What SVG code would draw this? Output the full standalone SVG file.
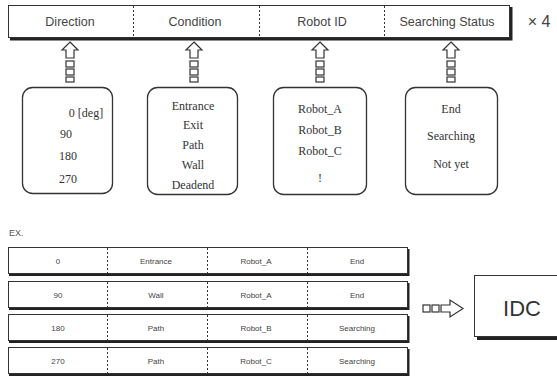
<svg xmlns="http://www.w3.org/2000/svg" width="557" height="377" viewBox="0 0 557 377">
<defs>
<style>
.bg{fill:#fff}
.box{fill:#fff;stroke:#333;stroke-width:1}
.shadow{fill:#222}
.div{stroke:#333;stroke-width:1;stroke-dasharray:2,2}
.hdr{font-family:"Liberation Sans",Arial,sans-serif;font-size:12.5px;fill:#444;text-anchor:middle}
.times{font-family:"Liberation Sans",Arial,sans-serif;font-size:16px;fill:#444;text-anchor:middle}
.ser{font-family:"Liberation Serif","Times New Roman",serif;font-size:12px;fill:#333;text-anchor:middle}
.row{font-family:"Liberation Sans",Arial,sans-serif;font-size:8px;fill:#444;text-anchor:middle}
.arr{fill:#fff;stroke:#333;stroke-width:1.2}
</style>
<g id="uparrow">
<path class="arr" d="M0,-1 L8,7 L4,7 L4,15 L-4,15 L-4,7 L-8,7 Z"/>
<rect class="arr" x="-4" y="18" width="8" height="6"/>
<rect class="arr" x="-4" y="26" width="8" height="6"/>
<rect class="arr" x="-4" y="34" width="8" height="5"/>
</g>
</defs>
<rect class="bg" x="0" y="0" width="557" height="377"/>

<g id="header">
<rect class="shadow" x="10" y="7" width="502.5" height="33.5"/>
<rect class="box" x="8.5" y="5.5" width="501" height="32"/>
<line class="div" x1="133.5" y1="6" x2="133.5" y2="37"/>
<line class="div" x1="259.5" y1="6" x2="259.5" y2="37"/>
<line class="div" x1="384.5" y1="6" x2="384.5" y2="37"/>
<text class="hdr" x="70" y="26">Direction</text>
<text class="hdr" x="195" y="26">Condition</text>
<text class="hdr" x="322" y="26">Robot ID</text>
<text class="hdr" x="447" y="26">Searching Status</text>
<text class="times" x="539" y="27">× 4</text>
</g>

<g id="connectors">
<use href="#uparrow" x="70" y="43"/>
<use href="#uparrow" x="194" y="43"/>
<use href="#uparrow" x="320" y="43"/>
<use href="#uparrow" x="451" y="43"/>
<g id="rightarrow">
<rect class="arr" x="423" y="305" width="7" height="7"/>
<rect class="arr" x="432" y="305" width="7" height="7"/>
<path class="arr" d="M441,305 L450,305 L450,300 L463,308.5 L450,317 L450,312 L441,312 Z"/>
</g>
</g>

<g id="direction-values">
<rect class="box" x="22.5" y="87.5" width="90" height="106" rx="10" style="stroke-width:1.3"/>
<text class="ser" x="86" y="117">0 [deg]</text>
<text class="ser" x="66" y="138">90</text>
<text class="ser" x="68" y="160">180</text>
<text class="ser" x="68" y="183">270</text>
</g>

<g id="condition-values">
<rect class="box" x="147.5" y="87.5" width="90" height="107" rx="10" style="stroke-width:1.3"/>
<text class="ser" x="193" y="110">Entrance</text>
<text class="ser" x="193" y="129">Exit</text>
<text class="ser" x="193" y="149">Path</text>
<text class="ser" x="193" y="169">Wall</text>
<text class="ser" x="193" y="189">Deadend</text>
</g>

<g id="robot-values">
<rect class="box" x="273.5" y="87.5" width="93" height="107" rx="10" style="stroke-width:1.3"/>
<text class="ser" x="320" y="113">Robot_A</text>
<text class="ser" x="320" y="134">Robot_B</text>
<text class="ser" x="320" y="155">Robot_C</text>
<text class="ser" x="320" y="182">!</text>
</g>

<g id="status-values">
<rect class="box" x="405.5" y="87.5" width="92" height="107" rx="10" style="stroke-width:1.3"/>
<text class="ser" x="451" y="113">End</text>
<text class="ser" x="451" y="140">Searching</text>
<text class="ser" x="451" y="168">Not yet</text>
</g>

<text x="9" y="236" style="font-family:'Liberation Sans',Arial,sans-serif;font-size:9px;fill:#555">EX.</text>

<g id="row1">
<rect class="shadow" x="9" y="249" width="400.5" height="27"/>
<rect class="box" x="8.5" y="247.5" width="399" height="26"/>
<line class="div" x1="107.5" y1="248" x2="107.5" y2="273"/>
<line class="div" x1="207.5" y1="248" x2="207.5" y2="273"/>
<line class="div" x1="307.5" y1="248" x2="307.5" y2="273"/>
<text class="row" x="58" y="263.5">0</text>
<text class="row" x="156" y="263.5">Entrance</text>
<text class="row" x="256" y="263.5">Robot_A</text>
<text class="row" x="357" y="263.5">End</text>
</g>
<g id="row2">
<rect class="shadow" x="9" y="283" width="400.5" height="27"/>
<rect class="box" x="8.5" y="281.5" width="399" height="26"/>
<line class="div" x1="107.5" y1="282" x2="107.5" y2="307"/>
<line class="div" x1="207.5" y1="282" x2="207.5" y2="307"/>
<line class="div" x1="307.5" y1="282" x2="307.5" y2="307"/>
<text class="row" x="58" y="297.5">90</text>
<text class="row" x="156" y="297.5">Wall</text>
<text class="row" x="256" y="297.5">Robot_A</text>
<text class="row" x="357" y="297.5">End</text>
</g>
<g id="row3">
<rect class="shadow" x="9" y="316" width="400.5" height="27"/>
<rect class="box" x="8.5" y="314.5" width="399" height="26"/>
<line class="div" x1="107.5" y1="315" x2="107.5" y2="340"/>
<line class="div" x1="207.5" y1="315" x2="207.5" y2="340"/>
<line class="div" x1="307.5" y1="315" x2="307.5" y2="340"/>
<text class="row" x="58" y="330.5">180</text>
<text class="row" x="156" y="330.5">Path</text>
<text class="row" x="256" y="330.5">Robot_B</text>
<text class="row" x="357" y="330.5">Searching</text>
</g>
<g id="row4">
<rect class="shadow" x="9" y="349" width="400.5" height="27"/>
<rect class="box" x="8.5" y="347.5" width="399" height="26"/>
<line class="div" x1="107.5" y1="348" x2="107.5" y2="373"/>
<line class="div" x1="207.5" y1="348" x2="207.5" y2="373"/>
<line class="div" x1="307.5" y1="348" x2="307.5" y2="373"/>
<text class="row" x="58" y="363.5">270</text>
<text class="row" x="156" y="363.5">Path</text>
<text class="row" x="256" y="363.5">Robot_C</text>
<text class="row" x="357" y="363.5">Searching</text>
</g>

<g id="idc">
<rect class="shadow" x="477" y="278" width="82" height="62"/>
<rect class="box" x="474.5" y="275.5" width="86" height="61"/>
<text x="522" y="316" style="font-family:'Liberation Sans',Arial,sans-serif;font-size:22px;fill:#333;text-anchor:middle">IDC</text>
</g>
</svg>
